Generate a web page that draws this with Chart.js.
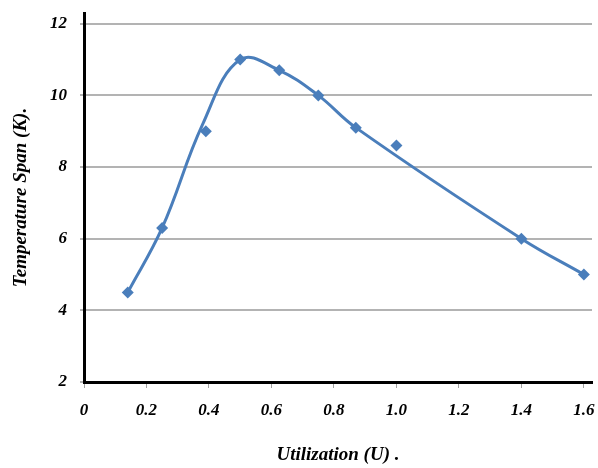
<!DOCTYPE html>
<html>
<head>
<meta charset="utf-8">
<script src="https://cdn.jsdelivr.net/npm/chart.js@4"></script>
<style>
  body { margin: 0; background: #fff; }
  #wrap { width: 598px; height: 468px; position: relative; }
</style>
</head>
<body>
<div id="wrap"><canvas id="chartSpan"></canvas></div>
<script>
// measured points (diamonds)
const utilization = [0.14, 0.25, 0.39, 0.5, 0.625, 0.75, 0.87, 1.0, 1.4, 1.6];
const tempSpan = [4.5, 6.3, 9.0, 11.0, 10.7, 10.0, 9.1, 8.6, 6.0, 5.0];

// smoothed curve
const curveU = [0.14, 0.25, 0.38, 0.5, 0.625, 0.75, 0.87, 1.4, 1.6];
const curveSpan = [4.5, 6.3, 9.2, 11.0, 10.7, 10.0, 9.1, 6.0, 5.0];

const xTicks = [0, 0.2, 0.4, 0.6, 0.8, 1.0, 1.2, 1.4, 1.6];
const yTicks = [2, 4, 6, 8, 10, 12];

const blue = '#4a7ebb';
const tickFont = { family: 'Liberation Serif', size: 17, weight: 'bold', style: 'italic' };
const titleFont = { family: 'Liberation Serif', size: 19, weight: 'bold', style: 'italic' };

function toPoints(xs, ys) {
  let pts = [];
  for (let i = 0; i < xs.length; i++) {
    pts.push({ x: xs[i], y: ys[i] });
  }
  return pts;
}

function noPad(scale) {
  scale.paddingTop = 0;
  scale.paddingBottom = 0;
  scale.paddingLeft = 0;
  scale.paddingRight = 0;
}

var ctx = document.getElementById('chartSpan').getContext('2d');
var myChart = new Chart(ctx, {
  type: 'scatter',
  data: {
    datasets: [{
      data: toPoints(curveU, curveSpan),
      showLine: true,
      tension: 0.4,
      borderColor: blue,
      borderWidth: 3,
      pointRadius: 0
    }, {
      data: toPoints(utilization, tempSpan),
      showLine: false,
      pointStyle: 'rectRot',
      pointRadius: 6,
      backgroundColor: blue,
      borderColor: blue,
      borderWidth: 0
    }]
  },
  options: {
    responsive: true,
    maintainAspectRatio: false,
    animation: false,
    layout: { padding: { top: 13, right: 0, left: 0, bottom: 0 } },
    plugins: { legend: { display: false }, tooltip: { enabled: false } },
    scales: {
      x: {
        type: 'linear',
        min: 0,
        max: 1.626,
        afterBuildTicks: function(axis) { axis.ticks = xTicks.map(v => ({ value: v })); },
        afterFit: function(scale) { scale.height = 86; noPad(scale); },
        border: { color: '#000', width: 3 },
        grid: { drawOnChartArea: false, drawTicks: true, tickLength: 6, tickColor: '#a0a0a0', tickWidth: 1 },
        ticks: {
          color: '#000',
          font: tickFont,
          padding: 12,
          maxRotation: 0,
          callback: function(v) { return v === 0 ? '0' : v.toFixed(1); }
        },
        title: {
          display: true,
          text: 'Utilization (U) .',
          color: '#000',
          font: titleFont,
          padding: { top: 0, bottom: 2 }
        }
      },
      y: {
        min: 2,
        max: 12.3,
        afterBuildTicks: function(axis) { axis.ticks = yTicks.map(v => ({ value: v })); },
        afterFit: function(scale) { scale.width = 84; noPad(scale); },
        border: { color: '#000', width: 3 },
        grid: { color: '#b3b3b3', lineWidth: 2, tickLength: 4 },
        ticks: {
          color: '#000',
          font: tickFont,
          padding: 13
        },
        title: {
          display: true,
          text: 'Temperature Span (K).',
          color: '#000',
          font: titleFont,
          padding: { top: 10, bottom: 0 }
        }
      }
    }
  }
});
</script>
</body>
</html>
